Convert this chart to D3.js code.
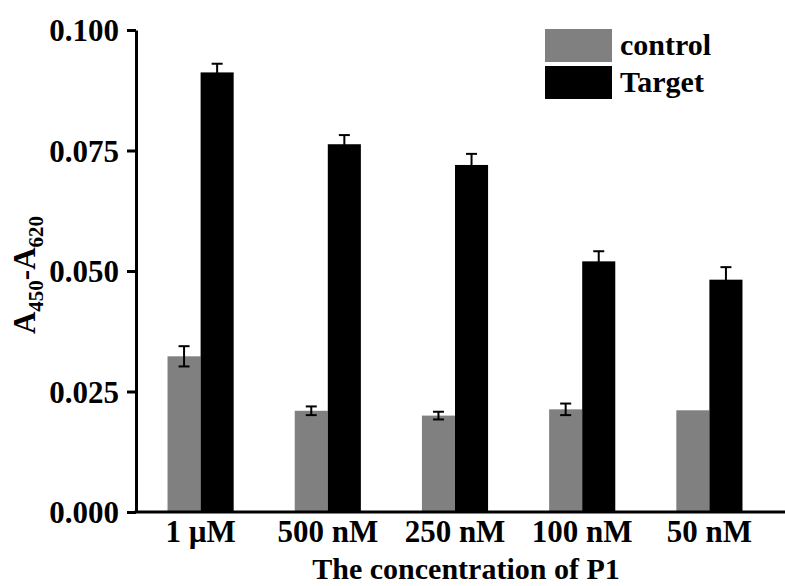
<!DOCTYPE html>
<html>
<head>
<meta charset="utf-8">
<script src="https://cdn.jsdelivr.net/npm/d3@7"></script>
<style>
  body { margin: 0; background: #fff; }
  svg text { font-family: "Liberation Serif", "Times New Roman", serif; font-weight: bold; fill: #000; }
</style>
</head>
<body>
<div id="chart"></div>
<script>
const categories = ["1 \u00b5M", "500 nM", "250 nM", "100 nM", "50 nM"];
const seriesNames = ["control", "Target"];
const controlValues = [0.0323, 0.0210, 0.0200, 0.0213, 0.0211];
const controlErrors = [0.0021, 0.0009, 0.0008, 0.0012, 0];
const targetValues = [0.0912, 0.0763, 0.0720, 0.0520, 0.0482];
const targetErrors = [0.0018, 0.0019, 0.0023, 0.0021, 0.0026];
const yTicks = [0, 0.025, 0.05, 0.075, 0.1];
const colors = ["#808080", "#000000"];

const width = 785;
const height = 586;

const svg = d3.select("#chart")
  .append("svg")
  .attr("width", width)
  .attr("height", height);

const x0 = d3.scaleBand()
  .domain(categories)
  .range([137, 773])
  .paddingInner(0.48)
  .paddingOuter(0.24);

const x1 = d3.scaleBand()
  .domain(seriesNames)
  .range([0, x0.bandwidth()]);

const y = d3.scaleLinear()
  .domain([0, 0.1])
  .range([512, 30]);

const rows = categories.map((c, i) => ({
  cat: c,
  items: [
    { name: "control", value: controlValues[i], err: controlErrors[i] },
    { name: "Target", value: targetValues[i], err: targetErrors[i] }
  ]
}));

// bars
const groups = svg.append("g")
  .selectAll("g")
  .data(rows)
  .join("g")
  .attr("transform", (d) => `translate(${x0(d.cat)},0)`);

groups.selectAll("rect")
  .data((d) => d.items)
  .join("rect")
  .attr("x", (d) => x1(d.name))
  .attr("y", (d) => y(d.value))
  .attr("width", x1.bandwidth())
  .attr("height", (d) => y(0) - y(d.value))
  .attr("fill", (d, i) => colors[i]);

// error bars
const capHalf = 5.5;
const errs = groups.selectAll("g.err")
  .data((d) => d.items.filter((e) => e.err > 0))
  .join("g")
  .attr("class", "err")
  .attr("stroke", "#000")
  .attr("stroke-width", 2);

errs.append("line")
  .attr("x1", (d) => x1(d.name) + x1.bandwidth() / 2)
  .attr("x2", (d) => x1(d.name) + x1.bandwidth() / 2)
  .attr("y1", (d) => y(d.value + d.err))
  .attr("y2", (d) => y(d.value - d.err));

errs.append("line")
  .attr("x1", (d) => x1(d.name) + x1.bandwidth() / 2 - capHalf)
  .attr("x2", (d) => x1(d.name) + x1.bandwidth() / 2 + capHalf)
  .attr("y1", (d) => y(d.value + d.err))
  .attr("y2", (d) => y(d.value + d.err));

errs.append("line")
  .attr("x1", (d) => x1(d.name) + x1.bandwidth() / 2 - capHalf)
  .attr("x2", (d) => x1(d.name) + x1.bandwidth() / 2 + capHalf)
  .attr("y1", (d) => y(d.value - d.err))
  .attr("y2", (d) => y(d.value - d.err));

// y axis
const yAxis = svg.append("g")
  .attr("transform", "translate(136,0)")
  .call(d3.axisLeft(y).tickValues(yTicks).tickFormat(d3.format(".3f")).tickSize(9).tickSizeOuter(0).tickPadding(8));

yAxis.select(".domain").attr("stroke", "#000").attr("stroke-width", 3);
yAxis.selectAll(".tick line").attr("stroke", "#000").attr("stroke-width", 3);
yAxis.selectAll(".tick text")
  .style("font-size", "31px")
  .attr("dy", "0.34em");

// x axis
const xAxis = svg.append("g")
  .attr("transform", "translate(0,512)")
  .call(d3.axisBottom(x0).tickSize(0).tickPadding(10));

xAxis.select(".domain").remove();
xAxis.selectAll(".tick text")
  .style("font-size", "31px")
  .attr("y", 30)
  .attr("dy", 0);

svg.append("line")
  .attr("x1", 134.5)
  .attr("x2", width)
  .attr("y1", 512)
  .attr("y2", 512)
  .attr("stroke", "#000")
  .attr("stroke-width", 3);

// axis titles
svg.append("text")
  .attr("x", 466)
  .attr("y", 579)
  .attr("text-anchor", "middle")
  .style("font-size", "30px")
  .text("The concentration of P1");

const yTitle = svg.append("text")
  .attr("transform", "translate(35,275) rotate(-90)")
  .attr("text-anchor", "middle")
  .style("font-size", "31px");
yTitle.append("tspan").text("A");
yTitle.append("tspan").attr("dy", 8).style("font-size", "21px").text("450");
yTitle.append("tspan").attr("dy", -8).text("-A");
yTitle.append("tspan").attr("dy", 8).style("font-size", "21px").text("620");

// legend
const legend = svg.append("g")
  .selectAll("g")
  .data(seriesNames)
  .join("g")
  .attr("transform", (d, i) => `translate(545,${29 + i * 37})`);

legend.append("rect")
  .attr("width", 67)
  .attr("height", 33)
  .attr("fill", (d, i) => colors[i]);

legend.append("text")
  .attr("x", 75)
  .attr("y", 26)
  .style("font-size", "30px")
  .text((d) => d);
</script>
</body>
</html>
